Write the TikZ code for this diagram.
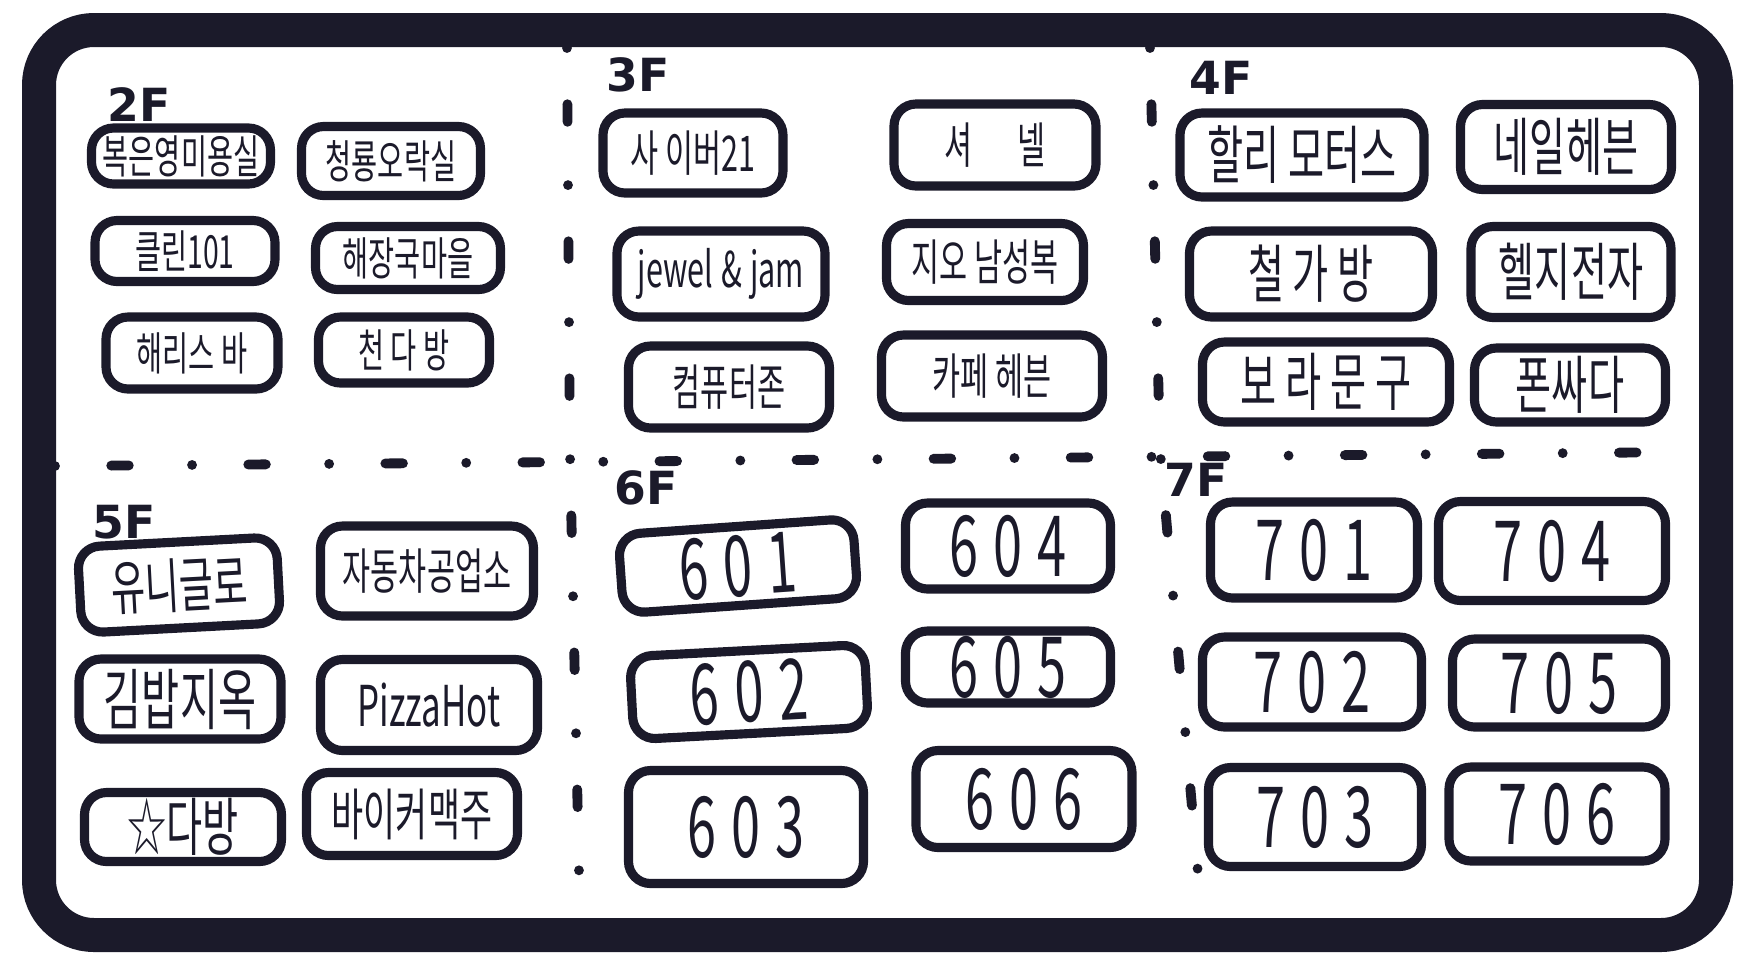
\documentclass[tikz,border=0pt]{standalone}
\usepackage{fontspec}
\setmainfont{Noto Sans CJK KR}
\newfontfamily\hand[FakeStretch=0.62]{Noto Sans CJK KR}
\newfontfamily\handnum[FakeStretch=0.62,LetterSpace=18]{Noto Sans CJK KR}
\newfontfamily\floorfont{DejaVu Sans}
\definecolor{ink}{HTML}{1B1A2A}

\begin{document}
\begin{tikzpicture}[x=1cm, y=-1cm,
    frame/.style={draw=ink, line width=0.34cm, rounded corners=0.55cm},
    divider/.style={draw=ink, line width=2.8pt, line cap=round, dash pattern=on 0pt off 16pt on 5pt off 18pt},
    fs/.style={font=\hand\fontsize{#1}{#1}\selectfont},
    sz/.style 2 args={minimum width=#1cm, minimum height=#2cm},
    shop/.style={draw=ink, line width=2.6pt, rounded corners=0.22cm, text=ink, inner sep=0pt, align=center},
    f2/.style={shop, fs=13}, f3/.style={shop, fs=14}, f4/.style={shop, fs=18}, f5/.style={shop, fs=17},
    room/.style={shop, font=\handnum\fontsize{24}{24}\selectfont},
    floor/.style={font=\floorfont\bfseries\fontsize{13}{13}\selectfont, text=ink, inner sep=0pt}
]
\useasboundingbox (0,0) rectangle (17.4,9.6);
\draw[frame] (0.39,0.30) rectangle (17.16,9.35);

\draw[divider] (5.67,0.48) -- (5.70,4.55) -- (5.80,9.18);
\draw[divider] (11.50,0.48) -- (11.60,4.50) -- (12.02,9.18);
\draw[divider] (0.55,4.66) -- (5.70,4.62) -- (16.90,4.52);

\node[floor] (l2) at (1.39,1.05) {2F};
\node[f2, sz={1.79}{0.56}] (f2a) at (1.81,1.56) {복은영미용실};
\node[f2, sz={1.79}{0.69}] (f2b) at (3.91,1.61) {청룡오락실};
\node[f2, sz={1.80}{0.61}] (f2c) at (1.85,2.51) {클린101};
\node[f2, sz={1.85}{0.63}] (f2d) at (4.08,2.58) {해장국마을};
\node[f2, sz={1.72}{0.72}] (f2e) at (1.92,3.53) {해리스 바};
\node[f2, sz={1.71}{0.66}] (f2f) at (4.04,3.50) {천 다 방};

\node[floor] (l3) at (6.38,0.75) {3F};
\node[f3, sz={1.80}{0.80}] (f3a) at (6.93,1.53) {사 이버21};
\node[f3, sz={2.02}{0.82}] (f3b) at (9.95,1.45) {셔\hspace{0.9em}넬};
\node[f3, sz={2.08}{0.86}] (f3c) at (7.21,2.74) {jewel\,\&\,jam};
\node[f3, sz={1.97}{0.77}] (f3d) at (9.85,2.62) {지오 남성복};
\node[f3, sz={2.01}{0.82}] (f3e) at (7.29,3.87) {컴퓨터존};
\node[f3, sz={2.21}{0.82}] (f3f) at (9.92,3.76) {카페 헤븐};

\node[floor] (l4) at (12.21,0.78) {4F};
\node[f4, sz={2.44}{0.84}] (f4a) at (13.02,1.55) {할리 모터스};
\node[f4, sz={2.11}{0.85}] (f4b) at (15.66,1.47) {네일헤븐};
\node[f4, sz={2.43}{0.86}] (f4c) at (13.11,2.74) {철 가 방};
\node[f4, sz={2.00}{0.91}] (f4d) at (15.71,2.72) {헬지전자};
\node[f4, sz={2.47}{0.80}] (f4e) at (13.26,3.82) {보 라 문 구};
\node[f4, sz={1.91}{0.74}] (f4f) at (15.70,3.85) {폰싸다};

\node[floor] (l5) at (1.24,5.22) {5F};
\node[f5, sz={1.99}{0.86}, rotate=3] (f5a) at (1.79,5.85) {유니글로};
\node[f5, sz={2.13}{0.90}, fs=14] (f5b) at (4.27,5.71) {자동차공업소};
\node[f5, sz={2.02}{0.80}, fs=19] (f5c) at (1.80,6.99) {김밥지옥};
\node[f5, sz={2.17}{0.91}, fs=16] (f5d) at (4.29,7.05) {PizzaHot};
\node[f5, sz={1.97}{0.69}, fs=18] (f5e) at (1.83,8.27) {☆다방};
\node[f5, sz={2.11}{0.83}, fs=16] (f5f) at (4.12,8.14) {바이커맥주};

\node[floor] (l6) at (6.46,4.88) {6F};
\node[room, sz={2.35}{0.79}, rotate=4] (r601) at (7.38,5.66) {601};
\node[room, sz={2.05}{0.86}] (r604) at (10.08,5.46) {604};
\node[room, sz={2.35}{0.83}, rotate=3] (r602) at (7.49,6.92) {602};
\node[room, sz={2.05}{0.72}] (r605) at (10.08,6.67) {605};
\node[room, sz={2.35}{1.13}] (r603) at (7.46,8.27) {603};
\node[room, sz={2.16}{0.97}] (r606) at (10.24,7.99) {606};

\node[floor] (l7) at (11.96,4.80) {7F};
\node[room, sz={2.07}{0.96}] (r701) at (13.14,5.50) {701};
\node[room, sz={2.27}{0.99}] (r704) at (15.52,5.51) {704};
\node[room, sz={2.19}{0.90}] (r702) at (13.12,6.82) {702};
\node[room, sz={2.13}{0.88}] (r705) at (15.59,6.83) {705};
\node[room, sz={2.13}{0.99}] (r703) at (13.15,8.17) {703};
\node[room, sz={2.16}{0.94}] (r706) at (15.57,8.14) {706};
\end{tikzpicture}
\end{document}
